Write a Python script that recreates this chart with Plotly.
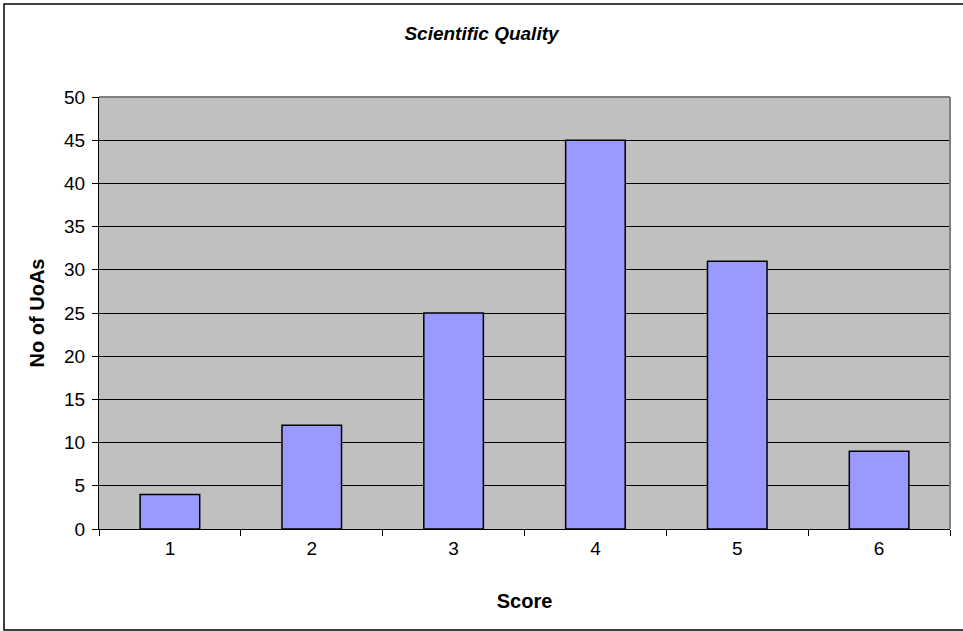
import plotly.graph_objects as go

# Score distribution
scores = ["1", "2", "3", "4", "5", "6"]
uoa_counts = [4, 12, 25, 45, 31, 9]
y_ticks = list(range(0, 55, 5))

title_text = "Scientific Quality"
x_title = "Score"
y_title = "No of UoAs"

FONT = "Liberation Sans, Arial, sans-serif"

fig = go.Figure(
    go.Bar(
        x=scores,
        y=uoa_counts,
        marker=dict(color="#9999FF", line=dict(color="#000000", width=1.5)),
        width=0.42,
    )
)

W, H = 963, 631
L, R, T, B = 99, 13, 97, 102
pw, ph = W - L - R, H - T - B

fig.update_layout(
    width=W,
    height=H,
    margin=dict(l=L, r=R, t=T, b=B, pad=0),
    paper_bgcolor="#FFFFFF",
    plot_bgcolor="#C0C0C0",
    showlegend=False,
    font=dict(family=FONT, size=19, color="#000000"),
    title=dict(
        text=f"<b><i>{title_text}</i></b>",
        x=0.5,
        xanchor="center",
        y=1 - 33 / H,
        yanchor="middle",
        yref="container",
        font=dict(family=FONT, size=19, color="#000000"),
    ),
    xaxis=dict(
        type="category",
        showgrid=False,
        showline=True,
        linecolor="#000000",
        linewidth=1,
        ticks="outside",
        tickson="boundaries",
        ticklen=6,
        tickcolor="#000000",
        tickfont=dict(size=19),
        ticklabelstandoff=2,
        title=dict(text=f"<b>{x_title}</b>", font=dict(size=20), standoff=36),
    ),
    yaxis=dict(
        range=[0, 50],
        tickvals=y_ticks,
        showgrid=True,
        gridcolor="#000000",
        gridwidth=1,
        zeroline=False,
        showline=True,
        linecolor="#000000",
        linewidth=1,
        ticks="outside",
        ticklen=6,
        tickcolor="#000000",
        tickfont=dict(size=19),
        ticklabelstandoff=3,
        title=dict(text=f"<b>{y_title}</b>", font=dict(size=20), standoff=14),
    ),
    shapes=[
        # plot-area border (top and right edges)
        dict(type="line", xref="paper", yref="paper", x0=0, x1=1, y0=1, y1=1,
             line=dict(color="#808080", width=2), layer="above"),
        dict(type="line", xref="paper", yref="paper", x0=1, x1=1, y0=0, y1=1,
             line=dict(color="#808080", width=2), layer="above"),
        # chart frame
        dict(type="rect", xref="paper", yref="paper",
             x0=(4 - L) / pw, x1=(W + 20 - L) / pw,
             y0=(T + ph - 630) / ph, y1=(T + ph - 4) / ph,
             line=dict(color="#000000", width=1.5), layer="below"),
    ],
)

fig.write_html("out.html")
